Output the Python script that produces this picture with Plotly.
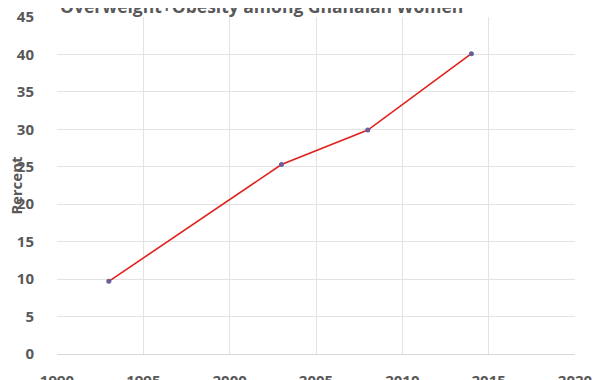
import plotly.graph_objects as go

years = [1993, 2003, 2008, 2014]
percent = [9.7, 25.3, 29.9, 40.1]
title_text = "Overweight+Obesity among Ghanaian Women"
y_title = "Percent"

font_fam = "Open Sans"
txt = "#595959"

fig = go.Figure()
fig.add_trace(go.Scatter(
    x=years, y=percent, mode="lines+markers",
    line=dict(color="#e0211d", width=1.6),
    marker=dict(color="#6a5f9a", size=5),
    showlegend=False,
))

fig.update_layout(
    width=600, height=380,
    margin=dict(l=49, r=33, t=9, b=34, autoexpand=False),
    paper_bgcolor="white", plot_bgcolor="white",
    font=dict(family=font_fam, color=txt),
)
fig.update_xaxes(
    range=[1990, 2020], dtick=5, tick0=1990,
    showgrid=True, gridcolor="#e3e3e3", gridwidth=1,
    zeroline=False, showline=False, ticks="",
    tickfont=dict(family=font_fam, size=15, color=txt, weight="bold"),
    ticklabelstandoff=16, automargin=False, ticklabeloverflow="allow",
)
fig.update_yaxes(
    range=[0, 45], dtick=5,
    showgrid=True, gridcolor="#e3e3e3", gridwidth=1,
    zeroline=True, zerolinecolor="#d9d9d9", zerolinewidth=1,
    showline=False, ticks="",
    tickfont=dict(family=font_fam, size=15, color=txt, weight="bold"),
    ticklabelstandoff=22, automargin=False, ticklabeloverflow="allow",
)
fig.add_annotation(
    text="<b>" + title_text + "</b>",
    xref="paper", yref="paper", x=0.394, y=1, yshift=11,
    showarrow=False, xanchor="center", yanchor="middle",
    font=dict(family=font_fam, size=17.5, color=txt),
)
fig.add_annotation(
    text="<b>" + y_title + "</b>", textangle=-90,
    xref="paper", yref="paper", x=0, y=0.5, xshift=-42,
    showarrow=False, xanchor="center", yanchor="middle",
    font=dict(family=font_fam, size=15, color=txt),
)
fig.write_html("out.html")
